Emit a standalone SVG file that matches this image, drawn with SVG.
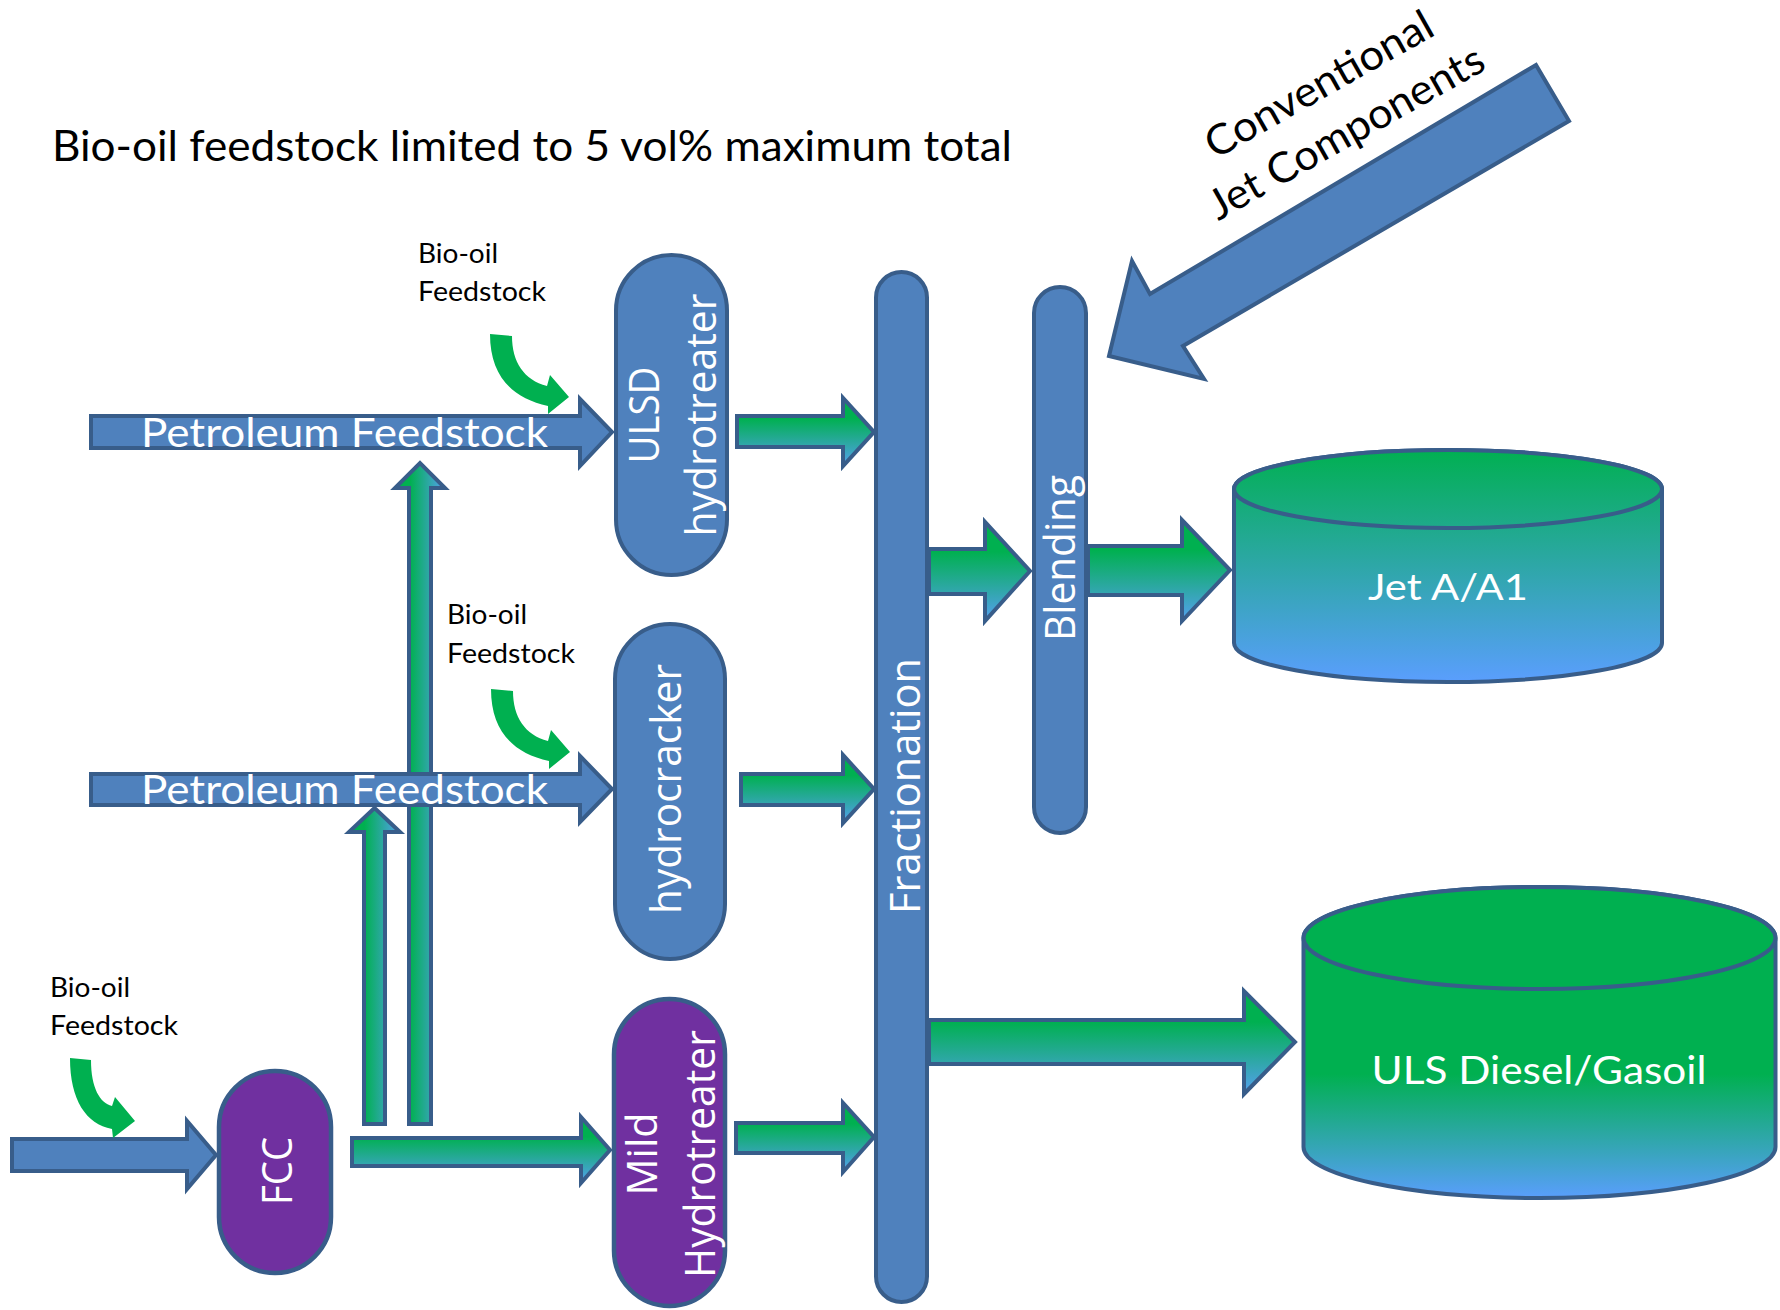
<svg xmlns="http://www.w3.org/2000/svg" width="1780" height="1310" viewBox="0 0 1780 1310">
<defs>
<linearGradient id="gV" x1="0" y1="0" x2="0" y2="1"><stop offset="0" stop-color="#00b050"/><stop offset="0.3" stop-color="#00b050"/><stop offset="1" stop-color="#55a0f0"/></linearGradient>
<linearGradient id="gH" x1="0" y1="0" x2="1" y2="0"><stop offset="0" stop-color="#00b050"/><stop offset="0.3" stop-color="#00b050"/><stop offset="1" stop-color="#55a0f0"/></linearGradient>
<linearGradient id="gJet" gradientUnits="userSpaceOnUse" x1="0" y1="448" x2="0" y2="684"><stop offset="0" stop-color="#00b050"/><stop offset="1" stop-color="#5b9eff"/></linearGradient>
<linearGradient id="gUls" gradientUnits="userSpaceOnUse" x1="0" y1="885" x2="0" y2="1200"><stop offset="0" stop-color="#00b050"/><stop offset="0.6" stop-color="#00b050"/><stop offset="1" stop-color="#5b9eff"/></linearGradient>
<style>
.blue{fill:#4f81bd;stroke:#385d8a;stroke-width:4}
.purple{fill:#7030a0;stroke:#385d8a;stroke-width:4.5}
.ga{fill:url(#gV);stroke:#385d8a;stroke-width:4}
.gav{fill:url(#gH);stroke:#385d8a;stroke-width:4}
.bio{fill:#00b050}
.cal{font-family:Lato,"Liberation Sans",sans-serif}
.v{font-family:"Open Sans","DejaVu Sans",sans-serif;font-size:42px;fill:#fff;text-anchor:middle}
.w{fill:#fff}
</style>
</defs>
<rect width="1780" height="1310" fill="#fff"/>

<text class="cal" x="52" y="161" font-size="42" textLength="960" lengthAdjust="spacingAndGlyphs">Bio-oil feedstock limited to 5 vol% maximum total</text>

<g id="connectors">
  <path class="gav" d="M 364,1124 V 832 H 349 L 374.5,808 L 400,832 H 385 V 1124 Z"/>
  <path class="gav" d="M 409,1124 V 488 H 395 L 420,463 L 445,488 H 431 V 1124 Z"/>
  <g id="petroleum1">
    <path class="blue" d="M 91,416 H 580 V 399 L 612,432 L 580,466 V 448 H 91 Z"/>
    <text class="cal w" x="141" y="447" font-size="40" textLength="407" lengthAdjust="spacingAndGlyphs">Petroleum Feedstock</text>
  </g>
  <g id="petroleum2">
    <path class="blue" d="M 91,774 H 580 V 756 L 612,789 L 580,822 V 805 H 91 Z"/>
    <text class="cal w" x="141" y="804" font-size="40" textLength="407" lengthAdjust="spacingAndGlyphs">Petroleum Feedstock</text>
  </g>
  <path class="blue" d="M 12,1139 H 187 V 1121 L 216,1155 L 187,1189 V 1171 H 12 Z"/>
  <path class="ga" d="M 737,416 H 843 V 398 L 874,432 L 843,466 V 447 H 737 Z"/>
  <path class="ga" d="M 741,774 H 843 V 755 L 874,789 L 843,823 V 805 H 741 Z"/>
  <path class="ga" d="M 736,1123 H 843 V 1103 L 874,1137 L 843,1172 V 1153 H 736 Z"/>
  <path class="ga" d="M 352,1138 H 581 V 1117 L 610,1150 L 581,1183 V 1166 H 352 Z"/>
  <path class="ga" d="M 929,549 H 985 V 522 L 1030,571 L 985,621 V 594 H 929 Z"/>
  <path class="ga" d="M 1088,546 H 1182 V 520 L 1230,570 L 1182,621 V 595 H 1088 Z"/>
  <path class="ga" d="M 929,1020 H 1244 V 991 L 1295,1042 L 1244,1094 V 1064 H 929 Z"/>
  <g id="conventional">
    <polygon class="blue" points="1109,356 1132,261 1150,294 1536,65 1569,121 1183,346 1204,379"/>
    <g transform="translate(1326,97) rotate(-29.5)">
      <text class="cal" x="0" y="0" font-size="42" text-anchor="middle" textLength="255" lengthAdjust="spacingAndGlyphs">Conventional</text>
      <text class="cal" x="0" y="55" font-size="42" text-anchor="middle" textLength="310" lengthAdjust="spacingAndGlyphs">Jet Components</text>
    </g>
  </g>
  <path id="bio1" class="bio" d="M 490,334 L 512,336 C 512,362 524,380 547,386 L 550,375 L 569,397 L 548,414 L 548,406 C 512,398 490,376 490,334 Z"/>
  <path id="bio2" class="bio" transform="translate(1,355)" d="M 490,334 L 512,336 C 512,362 524,380 547,386 L 550,375 L 569,397 L 548,414 L 548,406 C 512,398 490,376 490,334 Z"/>
  <path id="bio3" class="bio" d="M 70,1058 L 91,1060 C 91,1088 100,1103 112,1106 L 115,1097 L 135,1121 L 113,1138 L 112,1129 C 86,1124 70,1100 70,1058 Z"/>
</g>

<g id="biolabel1" class="cal" font-size="27">
  <text x="418" y="263" textLength="80" lengthAdjust="spacingAndGlyphs">Bio-oil</text>
  <text x="418" y="301" textLength="128" lengthAdjust="spacingAndGlyphs">Feedstock</text>
</g>
<g id="biolabel2" class="cal" font-size="27">
  <text x="447" y="624" textLength="80" lengthAdjust="spacingAndGlyphs">Bio-oil</text>
  <text x="447" y="663" textLength="128" lengthAdjust="spacingAndGlyphs">Feedstock</text>
</g>
<g id="biolabel3" class="cal" font-size="27">
  <text x="50" y="997" textLength="80" lengthAdjust="spacingAndGlyphs">Bio-oil</text>
  <text x="50" y="1035" textLength="128" lengthAdjust="spacingAndGlyphs">Feedstock</text>
</g>

<g id="ulsd">
  <rect class="blue" x="616" y="255" width="111" height="320" rx="55.5"/>
  <g transform="translate(0,415) rotate(-90)">
    <text class="v" x="0" y="659" textLength="97" lengthAdjust="spacingAndGlyphs">ULSD</text>
    <text class="v" x="0" y="716" textLength="243" lengthAdjust="spacingAndGlyphs">hydrotreater</text>
  </g>
</g>
<g id="hydrocracker">
  <rect class="blue" x="615" y="624" width="110" height="335" rx="55"/>
  <g transform="translate(0,789) rotate(-90)">
    <text class="v" x="0" y="681" textLength="250" lengthAdjust="spacingAndGlyphs">hydrocracker</text>
  </g>
</g>
<g id="mild">
  <rect class="purple" x="614" y="999" width="111" height="307" rx="55.5"/>
  <g transform="translate(0,1154) rotate(-90)">
    <text class="v" x="0" y="657" textLength="83" lengthAdjust="spacingAndGlyphs">Mild</text>
    <text class="v" x="0" y="715" textLength="248" lengthAdjust="spacingAndGlyphs">Hydrotreater</text>
  </g>
</g>
<g id="fcc">
  <rect class="purple" x="219" y="1071" width="112" height="202" rx="56"/>
  <g transform="translate(0,1171) rotate(-90)">
    <text class="v" x="0" y="292" font-size="40" textLength="68" lengthAdjust="spacingAndGlyphs">FCC</text>
  </g>
</g>
<g id="fractionation">
  <rect class="blue" x="876" y="272" width="51" height="1030" rx="25.5"/>
  <g transform="translate(0,786) rotate(-90)">
    <text class="v" x="0" y="920" textLength="256" lengthAdjust="spacingAndGlyphs">Fractionation</text>
  </g>
</g>
<g id="blending">
  <rect class="blue" x="1034" y="287" width="52" height="546" rx="26"/>
  <g transform="translate(0,558) rotate(-90)">
    <text class="v" x="0" y="1075" textLength="166" lengthAdjust="spacingAndGlyphs">Blending</text>
  </g>
</g>
<g id="jet">
  <path d="M 1234,489 V 643 A 214,39 0 0 0 1662,643 V 489 A 214,39 0 0 0 1234,489 Z" fill="url(#gJet)" stroke="#385d8a" stroke-width="4"/>
  <ellipse cx="1448" cy="489" rx="214" ry="39" fill="url(#gJet)" stroke="#385d8a" stroke-width="4"/>
  <text class="cal w" x="1448" y="600" font-size="37" text-anchor="middle" textLength="160" lengthAdjust="spacingAndGlyphs">Jet A/A1</text>
</g>
<g id="uls">
  <path d="M 1303.5,938 V 1147 A 236,51 0 0 0 1775.5,1147 V 938 A 236,51 0 0 0 1303.5,938 Z" fill="url(#gUls)" stroke="#385d8a" stroke-width="4"/>
  <ellipse cx="1539.5" cy="938" rx="236" ry="51" fill="url(#gUls)" stroke="#385d8a" stroke-width="4"/>
  <text class="cal w" x="1539" y="1084" font-size="39" text-anchor="middle" textLength="335" lengthAdjust="spacingAndGlyphs">ULS Diesel/Gasoil</text>
</g>
</svg>
